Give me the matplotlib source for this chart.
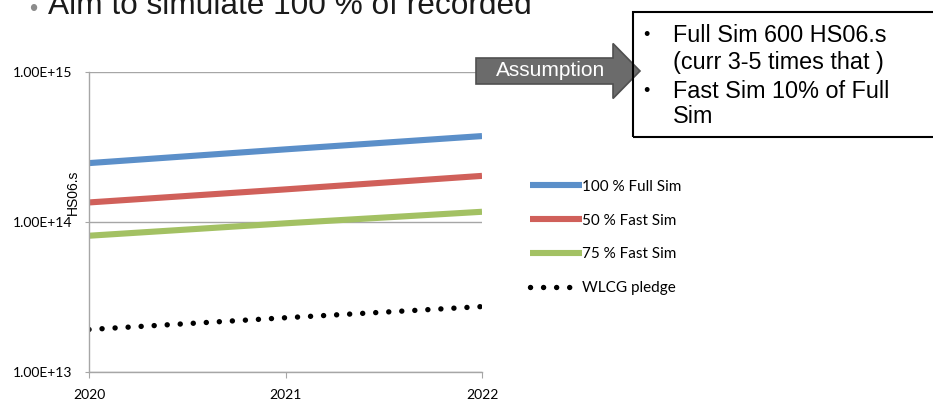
import matplotlib.pyplot as plt
from matplotlib.patches import FancyArrow, Rectangle

years = [2020, 2021, 2022]
full_sim_100 = [2.47e14, 3.05e14, 3.74e14]
fast_sim_50 = [1.35e14, 1.65e14, 2.03e14]
fast_sim_75 = [8.1e13, 9.8e13, 1.17e14]
wlcg_pledge = [1.92e13, 2.30e13, 2.73e13]

series_names = ['100 % Full Sim', '50 % Fast Sim', '75 % Fast Sim', 'WLCG pledge']
y_ticks = [1e13, 1e14, 1e15]
y_tick_labels = ['1.00E+13', '1.00E+14', '1.00E+15']

fig = plt.figure(figsize=(9.33, 4.01), dpi=100)
ax = fig.add_axes([89 / 933, 29 / 401, 393 / 933, 300 / 401])

ax.plot(years, full_sim_100, color='#5b8fc9', lw=4.4, solid_capstyle='butt', label=series_names[0])
ax.plot(years, fast_sim_50, color='#d0605a', lw=4.4, solid_capstyle='butt', label=series_names[1])
ax.plot(years, fast_sim_75, color='#a3c163', lw=4.4, solid_capstyle='butt', label=series_names[2])
ax.plot(years, wlcg_pledge, color='black', lw=3.9, linestyle=(0, (0.01, 2.4)),
        dash_capstyle='round', label=series_names[3])

ax.set_yscale('log')
ax.set_ylim(1e13, 1e15)
ax.set_xlim(2020, 2022)
ax.set_yticks(y_ticks)
ax.set_yticklabels(y_tick_labels)
ax.minorticks_off()
ax.set_xticks(years)
ax.set_xticklabels([str(y) for y in years])
ax.grid(axis='y', color='#a6a6a6', lw=1)
ax.set_axisbelow(True)
for s in ['top', 'right']:
    ax.spines[s].set_visible(False)
for s in ['left', 'bottom']:
    ax.spines[s].set_color('#a6a6a6')
    ax.spines[s].set_linewidth(1)
ax.tick_params(axis='y', color='#a6a6a6', length=3, labelsize=10, pad=9)
ax.tick_params(axis='x', color='#a6a6a6', length=4, labelsize=10, pad=8)
for lab in ax.get_yticklabels() + ax.get_xticklabels():
    lab.set_family('Lato')
ax.set_ylabel('HS06.s', family='Liberation Sans', fontsize=10)
ax.yaxis.set_label_coords(-0.023, 0.6)

leg = ax.legend(loc='upper left', bbox_to_anchor=(516 / 933, 1 - 166 / 401),
                bbox_transform=fig.transFigure, frameon=False, handlelength=3.4,
                handletextpad=0.0, labelspacing=1.3, prop={'family': 'Lato', 'size': 11})

# slide bullet heading, partially off the top edge
fig.text(29 / 933, 1 - 16 / 401, '\u2022', color='#8c8c8c', fontsize=17,
         family='Liberation Sans', va='baseline')
fig.text(48 / 933, 1 - 14 / 401, 'Aim to simulate 100 % of recorded', color='#1a1a1a',
         fontsize=22.8, family='Liberation Sans', va='baseline')

# notes box: white fill under the arrow, border over it
box_xy = (633 / 933, 1 - 137 / 401)
box_w, box_h = 0.5, 125 / 401
fig.add_artist(Rectangle(box_xy, box_w, box_h, transform=fig.transFigure,
                         facecolor='white', edgecolor='none', zorder=1))

# assumption arrow (display pixels, origin bottom-left)
arrow = FancyArrow(476, 401 - 71, 164, 0, width=26, head_width=55, head_length=27,
                   length_includes_head=True, transform=None, facecolor='#6b6b6b',
                   edgecolor='#505050', lw=1.2, zorder=2)
fig.add_artist(arrow)
fig.text(551 / 933, 1 - 71 / 401, 'Assumption', color='white', fontsize=15,
         family='Liberation Sans', ha='center', va='center', zorder=4)

fig.add_artist(Rectangle(box_xy, box_w, box_h, transform=fig.transFigure,
                         facecolor='none', edgecolor='black', lw=1.5, zorder=3))
notes = [('\u2022', 'Full Sim 600 HS06.s', 36), ('', '(curr 3-5 times that )', 62),
         ('\u2022', 'Fast Sim 10% of Full', 91), ('', 'Sim', 117)]
for bullet, txt, y in notes:
    if bullet:
        fig.text(643 / 933, 1 - y / 401, bullet, fontsize=13, family='Liberation Sans',
                 va='center', zorder=4)
    fig.text(673 / 933, 1 - y / 401, txt, fontsize=16.8, family='Liberation Sans',
             va='center', zorder=4)

fig.savefig('out.png', dpi=100)
